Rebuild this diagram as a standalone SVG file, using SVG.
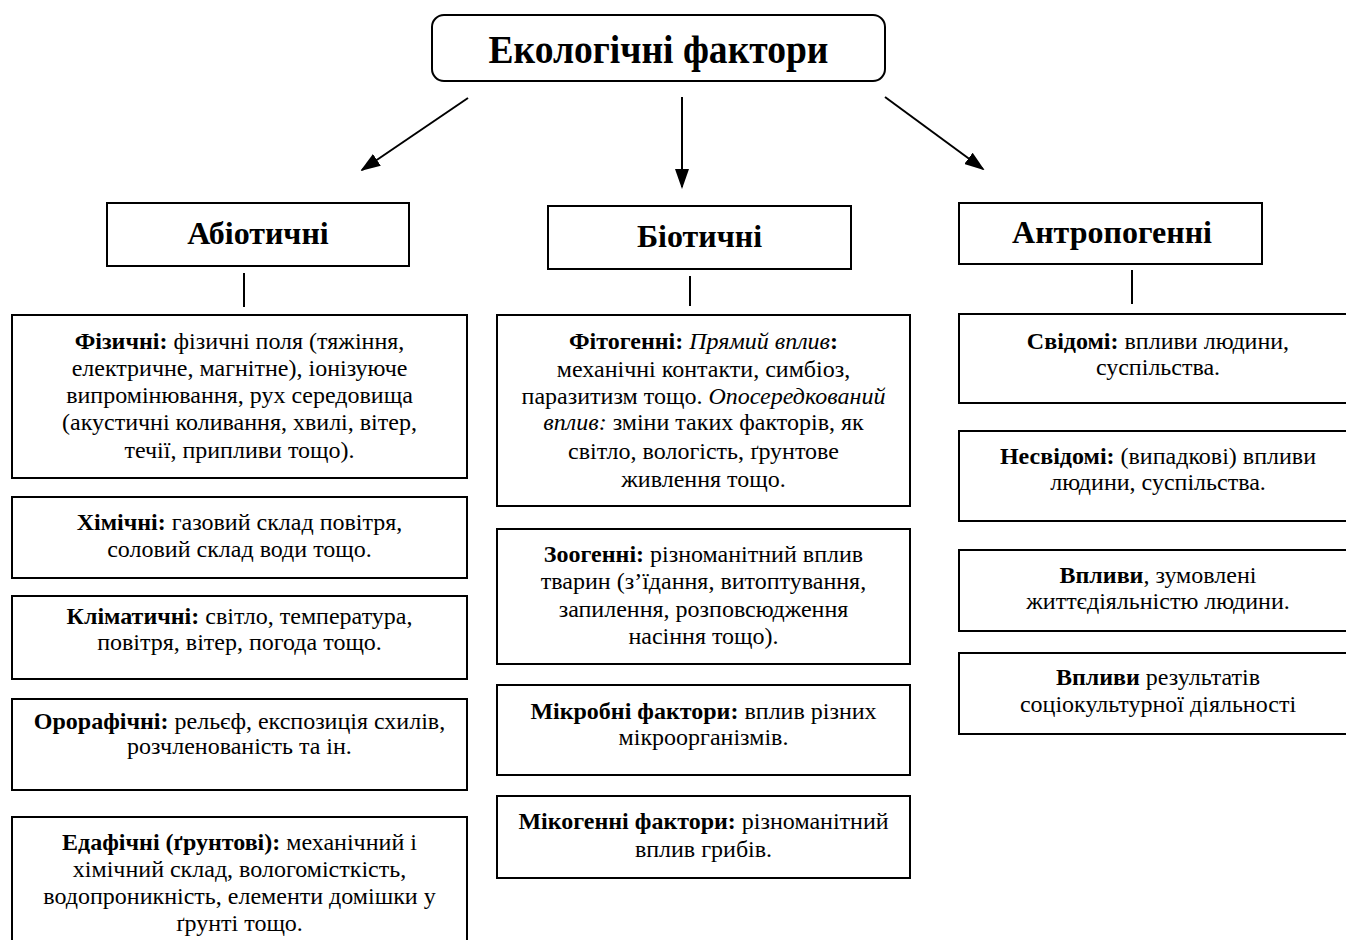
<svg xmlns="http://www.w3.org/2000/svg" width="1346" height="940" viewBox="0 0 1346 940">
<defs>
<style>
text{font-family:"Liberation Serif","Times New Roman",serif;fill:#000;text-anchor:middle}
.t{font-size:24px}
.h{font-size:32px;font-weight:bold}
.ti{font-size:41px;font-weight:bold}
.b{font-weight:bold}
.i{font-style:italic}
.box{fill:#fff;stroke:#000;stroke-width:2}
.ln{stroke:#000;stroke-width:2;fill:none}
</style>
<marker id="ah" viewBox="0 0 20 14" refX="18" refY="7" markerWidth="20" markerHeight="14" markerUnits="userSpaceOnUse" orient="auto">
<path d="M0,0 L20,7 L0,14 z" fill="#000"/>
</marker>
</defs>
<rect width="1346" height="940" fill="#fff"/>
<g id="connectors">
<line class="ln" x1="468" y1="98" x2="362" y2="170" marker-end="url(#ah)"/>
<line class="ln" x1="682" y1="97" x2="682" y2="187" marker-end="url(#ah)"/>
<line class="ln" x1="885" y1="97" x2="983" y2="169" marker-end="url(#ah)"/>
<line class="ln" x1="244" y1="273" x2="244" y2="307"/>
<line class="ln" x1="690" y1="276" x2="690" y2="306"/>
<line class="ln" x1="1132" y1="270" x2="1132" y2="304"/>
</g>
<g id="root">
<rect class="box" x="432" y="15" width="453" height="66" rx="12" stroke-width="1.6"/>
<text class="ti" x="658.5" y="63" textLength="340" lengthAdjust="spacingAndGlyphs">Екологічні фактори</text>
</g>
<g id="abiotic">
<rect class="box" x="107" y="203" width="302" height="63"/>
<text class="h" x="258" y="244">Абіотичні</text>
</g>
<g id="biotic">
<rect class="box" x="548" y="206" width="303" height="63"/>
<text class="h" x="699.5" y="247">Біотичні</text>
</g>
<g id="anthropogenic">
<rect class="box" x="959" y="203" width="303" height="61"/>
<text class="h" x="1112" y="243">Антропогенні</text>
</g>
<g id="physical">
<rect class="box" x="12" y="315" width="455" height="163"/>
<text class="t" x="239.5" y="349"><tspan class="b">Фізичні:</tspan> фізичні поля (тяжіння,</text>
<text class="t" x="239.5" y="376">електричне, магнітне), іонізуюче</text>
<text class="t" x="239.5" y="403">випромінювання, рух середовища</text>
<text class="t" x="239.5" y="430">(акустичні коливання, хвилі, вітер,</text>
<text class="t" x="239.5" y="458">течії, припливи тощо).</text>
</g>
<g id="chemical">
<rect class="box" x="12" y="497" width="455" height="81"/>
<text class="t" x="239.5" y="530"><tspan class="b">Хімічні:</tspan> газовий склад повітря,</text>
<text class="t" x="239.5" y="557">соловий склад води тощо.</text>
</g>
<g id="climatic">
<rect class="box" x="12" y="596" width="455" height="83"/>
<text class="t" x="239.5" y="624"><tspan class="b">Кліматичні:</tspan> світло, температура,</text>
<text class="t" x="239.5" y="650">повітря, вітер, погода тощо.</text>
</g>
<g id="orographic">
<rect class="box" x="12" y="699" width="455" height="91"/>
<text class="t" x="239.5" y="729"><tspan class="b">Орорафічні:</tspan> рельєф, експозиція схилів,</text>
<text class="t" x="239.5" y="754">розчленованість та ін.</text>
</g>
<g id="edaphic">
<rect class="box" x="12" y="817" width="455" height="130"/>
<text class="t" x="239.5" y="850"><tspan class="b">Едафічні (ґрунтові):</tspan> механічний і</text>
<text class="t" x="239.5" y="877">хімічний склад, вологомісткість,</text>
<text class="t" x="239.5" y="904">водопроникність, елементи домішки у</text>
<text class="t" x="239.5" y="931">ґрунті тощо.</text>
</g>
<g id="phytogenic">
<rect class="box" x="497" y="315" width="413" height="191"/>
<text class="t" x="703.5" y="349"><tspan class="b">Фітогенні:</tspan> <tspan class="i">Прямий вплив</tspan><tspan class="b">:</tspan></text>
<text class="t" x="703.5" y="377">механічні контакти, симбіоз,</text>
<text class="t" x="703.5" y="404">паразитизм тощо. <tspan class="i">Опосередкований</tspan></text>
<text class="t" x="703.5" y="430"><tspan class="i">вплив:</tspan> зміни таких факторів, як</text>
<text class="t" x="703.5" y="459">світло, вологість, ґрунтове</text>
<text class="t" x="703.5" y="487">живлення тощо.</text>
</g>
<g id="zoogenic">
<rect class="box" x="497" y="529" width="413" height="135"/>
<text class="t" x="703.5" y="562"><tspan class="b">Зоогенні:</tspan> різноманітний вплив</text>
<text class="t" x="703.5" y="589">тварин (з’їдання, витоптування,</text>
<text class="t" x="703.5" y="617">запилення, розповсюдження</text>
<text class="t" x="703.5" y="644">насіння тощо).</text>
</g>
<g id="microbial">
<rect class="box" x="497" y="685" width="413" height="90"/>
<text class="t" x="703.5" y="719"><tspan class="b">Мікробні фактори:</tspan> вплив різних</text>
<text class="t" x="703.5" y="745">мікроорганізмів.</text>
</g>
<g id="mycogenic">
<rect class="box" x="497" y="796" width="413" height="82"/>
<text class="t" x="703.5" y="829"><tspan class="b">Мікогенні фактори:</tspan> різноманітний</text>
<text class="t" x="703.5" y="857">вплив грибів.</text>
</g>
<g id="conscious">
<rect class="box" x="959" y="314" width="400" height="89"/>
<text class="t" x="1158" y="349"><tspan class="b">Свідомі:</tspan> впливи людини,</text>
<text class="t" x="1158" y="375">суспільства.</text>
</g>
<g id="unconscious">
<rect class="box" x="959" y="431" width="400" height="90"/>
<text class="t" x="1158" y="464"><tspan class="b">Несвідомі:</tspan> (випадкові) впливи</text>
<text class="t" x="1158" y="490">людини, суспільства.</text>
</g>
<g id="vital">
<rect class="box" x="959" y="550" width="400" height="81"/>
<text class="t" x="1158" y="583"><tspan class="b">Впливи</tspan>, зумовлені</text>
<text class="t" x="1158" y="609">життєдіяльністю людини.</text>
</g>
<g id="sociocultural">
<rect class="box" x="959" y="653" width="400" height="81"/>
<text class="t" x="1158" y="685"><tspan class="b">Впливи</tspan> результатів</text>
<text class="t" x="1158" y="712">соціокультурної діяльності</text>
</g>
</svg>
